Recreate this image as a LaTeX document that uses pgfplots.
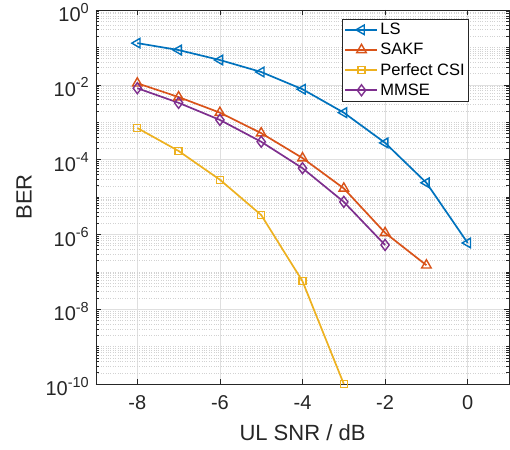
\documentclass[border=0pt]{standalone}
\usepackage{fontspec}
\setmainfont{Liberation Sans}
\usepackage{pgfplots}
\pgfplotsset{compat=1.18}
\definecolor{cLS}{rgb}{0,0.447,0.741}
\definecolor{cSAKF}{rgb}{0.85,0.325,0.098}
\definecolor{cPCSI}{rgb}{0.929,0.694,0.125}
\definecolor{cMMSE}{rgb}{0.494,0.184,0.556}
\definecolor{axgray}{rgb}{0.15,0.15,0.15}

% MATLAB-like exponent
\newcommand{\ex}[1]{\raisebox{8.5pt}{\fontsize{14.5}{14.5}\selectfont #1}}

% minor ticks 1..9 in each decade
\edef\minorlist{1e-10}
\foreach \e in {-10,...,-1}{\foreach \m in {2,...,9}{\xdef\minorlist{\minorlist,\m e\e}}}
\foreach \e in {-9,...,-1}{\xdef\minorlist{\minorlist,1e\e}}

\begin{document}
\begin{tikzpicture}
\begin{axis}[
  scale only axis, width=413pt, height=374pt,
  xmin=-9, xmax=1, ymode=log, ymin=1e-10, ymax=1,
  xtick={-8,-6,-4,-2,0}, xticklabels={-8,-6,-4,-2,0},
  ytick={1e-10,1e-8,1e-6,1e-4,1e-2,1},
  yticklabels={10\ex{-10},10\ex{-8},10\ex{-6},10\ex{-4},10\ex{-2},10\ex{0}},
  minor ytick/.expanded=\minorlist,
  grid=both,
  major grid style={gray!25, line width=0.5pt},
  minor grid style={gray!35, dotted, line width=0.4pt},
  axis line style={axgray, line width=0.6pt},
  tick style={axgray, line width=0.5pt},
  tick align=inside,
  major tick length=5pt, minor tick length=3pt,
  tick label style={font=\fontsize{20}{20}\selectfont, text=axgray},
  xticklabel style={anchor=center, yshift=-19pt},
  yticklabel style={anchor=south east, inner sep=0pt, xshift=-7pt, yshift=-12pt},
  xlabel={UL SNR / dB}, ylabel={BER},
  label style={font=\fontsize{22}{22}\selectfont, text=axgray},
  xlabel style={at={(axis description cs:0.5,0)}, anchor=center, yshift=-49pt},
  ylabel style={at={(axis description cs:0,0.5)}, anchor=center, yshift=72pt},
  legend style={at={(axis description cs:1,1)}, anchor=north east,
    xshift=-40pt, yshift=-9pt, draw=axgray, line width=0.6pt, fill=white,
    font=\fontsize{16.5}{16.5}\selectfont, row sep=3pt, inner sep=2pt},
  legend cell align=left,
  legend image code/.code={\draw[#1, mark repeat=2, mark phase=2] plot coordinates {(0pt,0pt) (16pt,0pt) (32pt,0pt)};},
  every axis plot/.append style={line width=1.7pt},
]
\addplot[cLS, mark=triangle, mark size=5.5pt, mark options={rotate=90, solid, line width=1.4pt}]
  coordinates {(-8,0.13) (-7,0.085) (-6,0.046) (-5,0.022) (-4,0.0076) (-3,1.8e-3) (-2,2.8e-4) (-1,2.4e-5) (0,5.9e-7)};
\addlegendentry{LS}
\addplot[cSAKF, mark=triangle, mark size=5.5pt, mark options={solid, line width=1.4pt}]
  coordinates {(-8,0.011) (-7,4.7e-3) (-6,1.8e-3) (-5,5.1e-4) (-4,1.1e-4) (-3,1.7e-5) (-2,1.1e-6) (-1,1.5e-7)};
\addlegendentry{SAKF}
\addplot[cPCSI, mark=square, mark size=3.5pt, mark options={solid, line width=1.3pt}]
  coordinates {(-8,7.0e-4) (-7,1.7e-4) (-6,2.9e-5) (-5,3.3e-6) (-4,5.6e-8) (-3,1e-10)};
\addlegendentry{Perfect CSI}
\addplot[cMMSE, mark=diamond, mark size=5.5pt, mark options={solid, line width=1.4pt}]
  coordinates {(-8,8.1e-3) (-7,3.3e-3) (-6,1.15e-3) (-5,3.0e-4) (-4,5.9e-5) (-3,7.4e-6) (-2,5.2e-7)};
\addlegendentry{MMSE}
\end{axis}
\pgfresetboundingbox
\path ([shift={(-96pt,-65pt)}]current axis.south west) rectangle ([shift={(1pt,10pt)}]current axis.north east);
\end{tikzpicture}
\end{document}
